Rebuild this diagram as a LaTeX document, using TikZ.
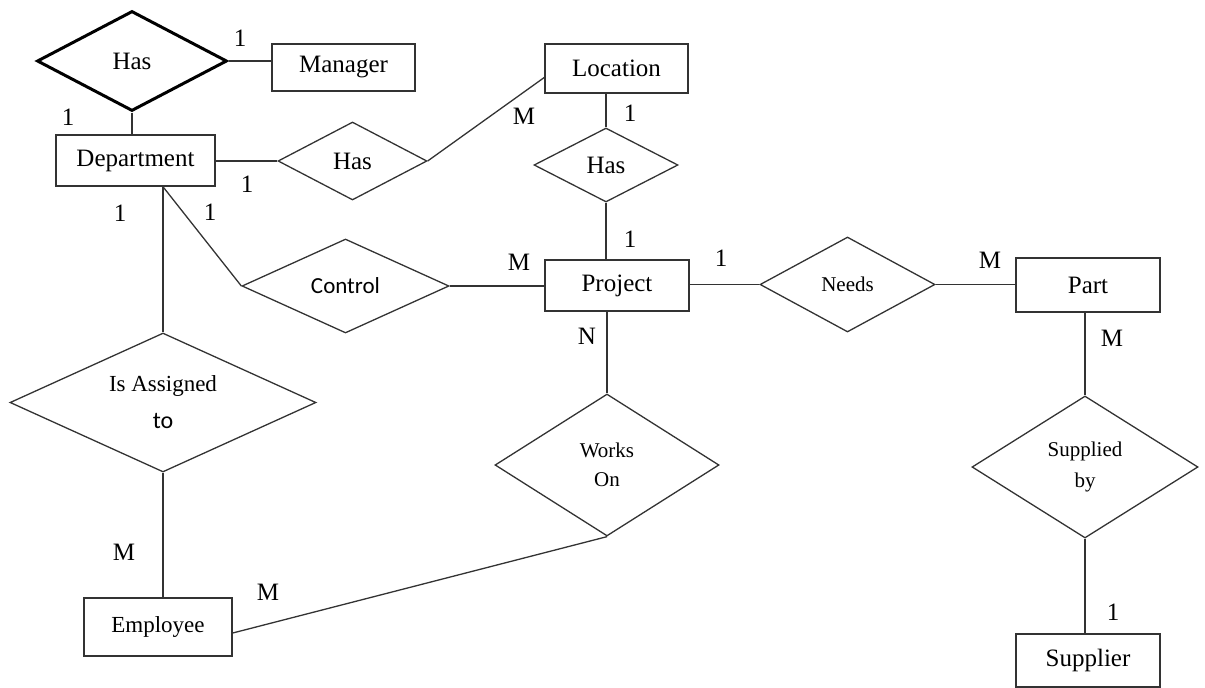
\documentclass[tikz,border=0pt]{standalone}
\usepackage{fontspec}
\setmainfont{Liberation Serif}
\newfontfamily\labelsans{Carlito}
\usetikzlibrary{shapes.geometric,calc}
\definecolor{ink}{HTML}{333333}
\begin{document}
\begin{tikzpicture}[x=1pt,y=-1pt,
  entity/.style={draw=ink,line width=1.5pt,rectangle,inner sep=0pt,
    font=\fontsize{25}{30}\selectfont},
  relation/.style={draw=ink,line width=1.3pt,diamond,inner sep=0pt,
    align=center},
  boldrel/.style={relation,draw=black,line width=3pt},
  card/.style={inner sep=0pt,font=\fontsize{25}{30}\selectfont},
  link/.style={draw=ink,line width=1.3pt}]
\useasboundingbox (0,0) rectangle (1205,688);

% entities
\node[entity,minimum width=143pt,minimum height=47pt] (mgr) at (343.5,67.5) {Manager};
\node[entity,minimum width=159pt,minimum height=51pt] (dept) at (135.5,160.5) {Department};
\node[entity,minimum width=143pt,minimum height=49pt] (loc) at (616.5,68.5) {Location};
\node[entity,minimum width=144pt,minimum height=51pt] (proj) at (617,285.5) {Project};
\node[entity,minimum width=144pt,minimum height=54pt] (part) at (1088,285) {Part};
\node[entity,minimum width=148pt,minimum height=58pt,font=\fontsize{23}{28}\selectfont] (emp) at (158,627) {Employee};
\node[entity,minimum width=144pt,minimum height=53pt] (supp) at (1088,660.5) {Supplier};

% relationships
\node[boldrel,minimum width=190pt,minimum height=100pt,font=\fontsize{25}{30}\selectfont] (hasMgr) at (132,61) {Has};
\node[relation,minimum width=149pt,minimum height=78pt,font=\fontsize{25}{30}\selectfont] (hasLoc) at (352.5,161) {Has};
\node[relation,minimum width=144pt,minimum height=74pt,font=\fontsize{25}{30}\selectfont] (hasProj) at (606,165) {Has};
\node[relation,minimum width=207pt,minimum height=94pt,font=\labelsans\fontsize{23}{28}\selectfont] (control) at (345.5,286) {Control};
\node[relation,minimum width=175pt,minimum height=95pt,font=\fontsize{21}{26}\selectfont] (needs) at (847.5,284.5) {Needs};
\node[relation,aspect=2.2,minimum width=306pt,minimum height=139pt,font=\fontsize{23}{28}\selectfont] (isA) at (163,402.5)
  {Is Assigned\\[9pt]{\labelsans\fontsize{24}{28}\selectfont to}};
\node[relation,aspect=1.6,minimum width=224pt,minimum height=142pt,font=\fontsize{21}{29}\selectfont] (works) at (607,465) {Works\\On};
\node[relation,aspect=1.6,minimum width=226pt,minimum height=142pt,font=\fontsize{21}{31}\selectfont] (suppBy) at (1085,467) {Supplied\\by};

% connectors
\path[link] (hasMgr.east) -- (hasMgr.east -| mgr.west);
\path[link] (hasMgr.south) -- (hasMgr.south |- dept.north);
\path[link] (dept.east |- hasLoc.west) -- (hasLoc.west);
\path[link] (hasLoc.east) -- ([yshift=-9pt]loc.west);
\path[link] (hasProj.north |- loc.south) -- (hasProj.north);
\path[link] (hasProj.south) -- (hasProj.south |- proj.north);
\coordinate (deptFoot) at (isA.north |- dept.south);
\path[link] (deptFoot) -- (control.west);
\path[link] (deptFoot) -- (isA.north);
\path[link] (control.east) -- (control.east -| proj.west);
\path[link] (needs.west -| proj.east) -- (needs.west);
\path[link] (needs.east) -- (needs.east -| part.west);
\path[link] (works.north |- proj.south) -- (works.north);
\path[link] (isA.south) -- (isA.south |- emp.north);
\path[link] ([yshift=-6pt]emp.east) -- (works.south);
\path[link] (suppBy.north |- part.south) -- (suppBy.north);
\path[link] (suppBy.south) -- (suppBy.south |- supp.north);

% cardinalities
\node[card] (c1) at (240,38) {1};
\node[card] (c2) at (68,117) {1};
\node[card] (c3) at (247,184) {1};
\node[card] (c4) at (524,116) {M};
\node[card] (c5) at (630,113) {1};
\node[card] (c6) at (630,239) {1};
\node[card] (c7) at (120,213) {1};
\node[card] (c8) at (210,212) {1};
\node[card] (c9) at (519,262) {M};
\node[card] (c10) at (721,258) {1};
\node[card] (c11) at (990,260) {M};
\node[card] (c12) at (587,336) {N};
\node[card] (c13) at (1112,338) {M};
\node[card] (c14) at (124,552) {M};
\node[card] (c15) at (268,592) {M};
\node[card] (c16) at (1113,612) {1};
\end{tikzpicture}
\end{document}
